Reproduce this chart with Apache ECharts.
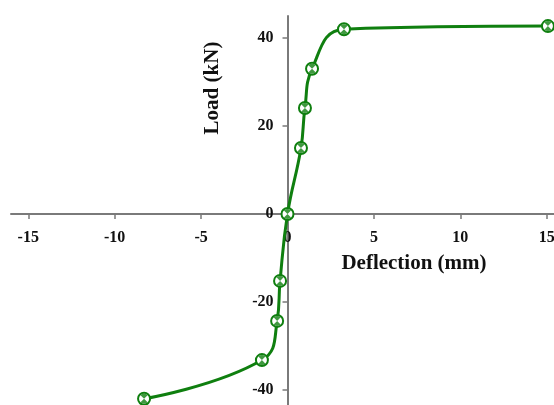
<!DOCTYPE html>
<html>
<head>
<meta charset="utf-8">
<script src="https://cdn.jsdelivr.net/npm/echarts@6/dist/echarts.min.js"></script>
<style>
html,body{margin:0;padding:0;background:#fff;}
#chart{width:554px;height:405px;}
</style>
</head>
<body>
<div id="chart"></div>
<script>
const deflection = [-8.3, -1.48, -0.6, -0.43, 0, 0.78, 1.01, 1.42, 3.27, 15.07];
const load = [-42, -33.2, -24.3, -15.2, 0, 15, 24.1, 33, 42, 42.7];
const xTicks = [-15, -10, -5, 0, 5, 10, 15];
const yTicks = [-40, -20, 0, 20, 40];
const xTitle = 'Deflection (mm)';
const yTitle = 'Load (kN)';

const W = 554, H = 405;
const green = '#0f7f0f';
const axisColor = '#7a7a7a';
const font = '"Liberation Serif", "Times New Roman", serif';
const pts = deflection.map((x, i) => [x, load[i]]);

const grid = { left: 11, right: -10, top: 16, bottom: -7 };
const xMin = -16, xMax = 16, yMin = -45, yMax = 45;
const gw = W - grid.left - grid.right, gh = H - grid.top - grid.bottom;
// shift axes so they cross at the origin
const xOffset = -gh * (0 - yMin) / (yMax - yMin);
const yOffset = -gw * (0 - xMin) / (xMax - xMin);

const chart = echarts.init(document.getElementById('chart'));
chart.setOption({
  animation: false,
  backgroundColor: '#ffffff',
  grid: Object.assign({ containLabel: false, outerBoundsMode: 'none' }, grid),
  xAxis: {
    type: 'value', min: xMin, max: xMax, position: 'bottom', offset: xOffset,
    axisLine: { onZero: false, lineStyle: { color: axisColor, width: 2 } },
    axisTick: { show: true, customValues: xTicks, length: 5, lineStyle: { color: axisColor, width: 1.5 } },
    axisLabel: { customValues: xTicks, margin: 16, fontFamily: font, fontWeight: 'bold', fontSize: 16, color: '#111' },
    splitLine: { show: false }
  },
  yAxis: {
    type: 'value', min: yMin, max: yMax, position: 'left', offset: yOffset,
    axisLine: { onZero: false, lineStyle: { color: axisColor, width: 2 } },
    axisTick: { show: true, customValues: yTicks, length: 5, lineStyle: { color: axisColor, width: 1.5 } },
    axisLabel: { customValues: yTicks, margin: 14, fontFamily: font, fontWeight: 'bold', fontSize: 16, color: '#111' },
    splitLine: { show: false }
  },
  graphic: [
    { type: 'text', x: 414, y: 264, style: { text: xTitle, font: 'bold 21px ' + font, fill: '#111', align: 'center', verticalAlign: 'middle' } },
    { type: 'text', x: 213, y: 88, rotation: Math.PI / 2, style: { text: yTitle, font: 'bold 21px ' + font, fill: '#111', align: 'center', verticalAlign: 'middle' } }
  ],
  series: [
    {
      type: 'line', data: pts, smooth: 0.45, clip: false,
      symbol: 'circle', symbolSize: 12, showSymbol: true,
      lineStyle: { color: green, width: 3 },
      itemStyle: { color: '#ffffff', borderColor: green, borderWidth: 2 },
      z: 2
    },
    {
      type: 'scatter', data: pts, clip: false,
      symbol: 'path://M0,0 L-7,-7 A10,10 0 0 1 7,-7 Z M0,0 L7,7 A10,10 0 0 1 -7,7 Z',
      symbolSize: 10, symbolKeepAspect: true,
      itemStyle: { color: green },
      z: 3
    }
  ]
});
</script>
</body>
</html>
